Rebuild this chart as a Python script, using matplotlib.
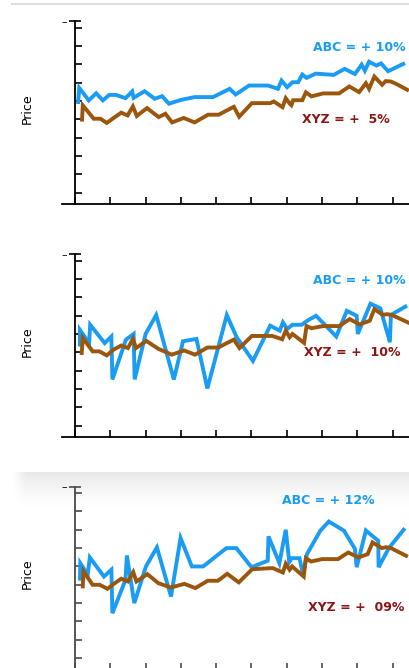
import numpy as np
import matplotlib
matplotlib.use("Agg")
import matplotlib.pyplot as plt
from matplotlib.lines import Line2D

# Panel 1: smooth ABC vs XYZ
abc1_x = [0.09, 0.12, 0.39, 0.60, 0.79, 0.97, 1.16, 1.43, 1.62, 1.66,
          1.97, 2.26, 2.47, 2.66, 3.01, 3.39, 3.91, 4.38, 4.55, 4.93,
          5.47, 5.75, 5.85, 6.01, 6.16, 6.32, 6.44, 6.56, 6.82, 7.33,
          7.64, 7.93, 8.12, 8.21, 8.33, 8.54, 8.67, 8.87, 9.30]
abc1_y = [5.94, 6.71, 6.03, 6.42, 6.03, 6.33, 6.33, 6.15, 6.52, 6.17,
          6.53, 6.12, 6.26, 5.85, 6.06, 6.21, 6.21, 6.66, 6.35, 6.84,
          6.84, 6.66, 7.11, 6.75, 7.02, 7.02, 7.44, 7.26, 7.49, 7.42,
          7.75, 7.47, 7.98, 7.65, 8.14, 7.93, 8.05, 7.62, 8.02]
xyz1_x = [0.20, 0.22, 0.53, 0.72, 0.90, 1.10, 1.31, 1.49, 1.64, 1.75,
          2.04, 2.37, 2.56, 2.75, 3.08, 3.39, 3.77, 4.07, 4.50, 4.65,
          5.01, 5.53, 5.63, 5.88, 5.97, 6.08, 6.13, 6.18, 6.44, 6.54,
          6.70, 7.03, 7.48, 7.77, 8.05, 8.24, 8.33, 8.48, 8.70, 8.80,
          8.95, 9.13, 9.41]
xyz1_y = [4.98, 5.76, 5.03, 5.03, 4.80, 5.08, 5.36, 5.21, 5.70, 5.18,
          5.61, 5.12, 5.30, 4.83, 5.07, 4.83, 5.25, 5.25, 5.68, 5.14,
          5.88, 5.88, 5.97, 5.66, 6.15, 5.86, 5.77, 6.04, 6.04, 6.47,
          6.25, 6.41, 6.41, 6.79, 6.48, 6.97, 6.66, 7.33, 6.88, 7.08,
          7.06, 6.90, 6.61]

# Panel 2: volatile ABC
abc2_x = [0.14, 0.14, 0.40, 0.43, 0.84, 1.03, 1.06, 1.44, 1.66, 1.69,
          2.00, 2.30, 2.80, 3.06, 3.44, 3.75, 4.30, 4.58, 5.04, 5.53,
          5.80, 5.89, 6.01, 6.16, 6.42, 6.61, 6.83, 7.40, 7.70, 7.98,
          8.01, 8.37, 8.65, 8.92, 8.95, 9.36]
abc2_y = [5.42, 6.22, 5.50, 6.50, 5.50, 5.86, 3.52, 5.68, 6.00, 3.52,
          6.00, 7.03, 3.52, 5.60, 5.73, 3.03, 7.03, 5.82, 4.53, 6.45,
          6.18, 6.63, 6.27, 6.50, 6.50, 6.76, 6.99, 5.86, 7.26, 6.99,
          6.00, 7.65, 7.40, 5.55, 7.04, 7.49]
xyz2_x = [0.19, 0.22, 0.50, 0.69, 0.90, 1.09, 1.31, 1.50, 1.64, 1.73,
          2.02, 2.36, 2.74, 3.09, 3.40, 3.75, 4.06, 4.31, 4.50, 4.66,
          5.01, 5.59, 5.87, 5.97, 6.08, 6.16, 6.49, 6.56, 6.70, 7.03,
          7.49, 7.78, 8.06, 8.35, 8.48, 8.72, 8.84, 8.98, 9.43]
xyz2_y = [4.96, 5.78, 5.05, 5.05, 4.83, 5.14, 5.37, 5.23, 5.73, 5.23,
          5.62, 5.19, 4.87, 5.10, 4.87, 5.26, 5.26, 5.51, 5.69, 5.23,
          5.89, 5.89, 5.71, 6.18, 5.82, 6.00, 5.51, 6.43, 6.31, 6.43,
          6.43, 6.81, 6.52, 6.72, 7.35, 7.04, 7.08, 7.03, 6.63]

# Panel 3: volatile ABC, different result
abc3_x = [0.14, 0.15, 0.36, 0.42, 0.82, 1.03, 1.06, 1.43, 1.47, 1.68,
          2.01, 2.32, 2.72, 2.99, 3.31, 3.63, 4.29, 4.57, 5.00, 5.46,
          5.48, 5.79, 5.97, 6.07, 6.14, 6.36, 6.46, 6.57, 6.95, 7.19,
          7.62, 7.93, 7.98, 8.24, 8.59, 8.60, 8.89, 9.31]
abc3_y = [5.33, 6.18, 5.55, 6.49, 5.45, 5.82, 3.45, 5.27, 6.60, 4.00,
          6.00, 7.04, 4.36, 7.55, 6.00, 6.00, 7.00, 7.00, 5.96, 6.31,
          7.64, 6.18, 8.00, 6.24, 6.45, 6.45, 5.55, 6.67, 7.95, 8.45,
          7.95, 6.96, 5.96, 7.96, 7.40, 5.96, 7.00, 8.00]
xyz3_x = [0.22, 0.24, 0.50, 0.70, 0.92, 1.10, 1.31, 1.50, 1.65, 1.74,
          2.05, 2.36, 2.71, 3.10, 3.41, 3.76, 4.05, 4.31, 4.64, 5.02,
          5.60, 5.89, 5.97, 6.08, 6.15, 6.48, 6.54, 6.69, 7.00, 7.45,
          7.74, 8.03, 8.29, 8.43, 8.69, 8.81, 8.95, 9.38]
xyz3_y = [4.91, 5.73, 5.00, 5.00, 4.78, 5.05, 5.33, 5.18, 5.69, 5.18,
          5.58, 5.09, 4.85, 5.05, 4.82, 5.22, 5.22, 5.60, 5.13, 5.85,
          5.91, 5.67, 6.15, 5.82, 6.00, 5.45, 6.45, 6.27, 6.40, 6.40,
          6.76, 6.49, 6.67, 7.31, 7.00, 7.05, 7.00, 6.58]

abc_labels = ["ABC = + 10%", "ABC = + 10%", "ABC = + 12%"]
xyz_labels = ["XYZ = +  5%", "XYZ = +  10%", "XYZ = +  09%"]

BLUE = "#1a9cf2"
BROWN = "#9a560c"
RED = "#8e1414"

W, H = 410, 668
fig = plt.figure(figsize=(W / 100, H / 100), dpi=100)

# light separator at the top and a soft shadow band above panel 3
fig.add_artist(Line2D([12 / W, 1], [1 - 4 / H] * 2, color="#dcdcdc", lw=1.5))
grad_ax = fig.add_axes([12 / W, (H - 512) / H, (W - 12) / W, 40 / H], zorder=0)
gy = np.linspace(0, 1, 40)[:, None]
gx = np.linspace(0, 1, 398)[None, :]
shade = 0.09 * (1 - gy) ** 1.5 * np.clip(gx * 30, 0, 1)
grad_ax.imshow(1 - shade, cmap="gray", vmin=0, vmax=1, aspect="auto",
               interpolation="bilinear")
grad_ax.axis("off")

# pixel rows (top, bottom) of each panel and label anchors in data units
panels = [
    (21, 204, abc1_x, abc1_y, xyz1_x, xyz1_y, (9.38, 9.0), (8.92, 5.08), "black"),
    (254, 437, abc2_x, abc2_y, xyz2_x, xyz2_y, (9.38, 9.02), (9.21, 5.09), "black"),
    (486.5, 669.5, abc3_x, abc3_y, xyz3_x, xyz3_y, (8.50, 9.66), (9.32, 3.87), "#4a4a4a"),
]

ymin, ymax = 0.38, 10.36
for i, (top, bot, ax_x, ax_y, xz_x, xz_y, abc_pos, xyz_pos, axcol) in enumerate(panels):
    ax = fig.add_axes([62 / W, (H - bot) / H, (W - 62) / W, (bot - top) / H], zorder=2)
    ax.patch.set_alpha(0)
    ax.plot(xz_x, xz_y, color=BROWN, lw=2.8, solid_joinstyle="miter", zorder=3)
    ax.plot(ax_x, ax_y, color=BLUE, lw=2.8, solid_joinstyle="miter", zorder=2)
    ax.set_xlim(-13 / 35.3, (W - 75) / 35.3)
    ax.set_ylim(ymin, ymax)
    for s in ["top", "right"]:
        ax.spines[s].set_visible(False)
    ax.spines["left"].set_position(("data", 0))
    for s in ["left", "bottom"]:
        ax.spines[s].set_linewidth(1.3)
        ax.spines[s].set_color(axcol)
    ax.set_xticks(range(10))
    ax.set_xticklabels([])
    ax.set_yticks(range(1, 11))
    ax.set_yticklabels([])
    ax.set_yticks([ymax], minor=True)
    ax.set_yticklabels(["\u2013"], minor=True)
    ax.tick_params(which="major", direction="in", length=5, width=1.2, color=axcol)
    ax.tick_params(axis="y", which="minor", direction="inout", length=8, width=1.2,
                   color=axcol, pad=2, labelsize=8, labelcolor="black")
    ax.text(abc_pos[0], abc_pos[1], abc_labels[i], color=BLUE, fontsize=9,
            fontweight="bold", ha="right", va="center_baseline")
    ax.text(xyz_pos[0], xyz_pos[1], xyz_labels[i], color=RED, fontsize=9,
            fontweight="bold", ha="right", va="center_baseline")
    fig.text(27 / W, 1 - ((top + bot) / 2 - 4) / H, "Price", rotation=90,
             ha="center", va="center", fontsize=9)

fig.savefig("out.png", dpi=100)
